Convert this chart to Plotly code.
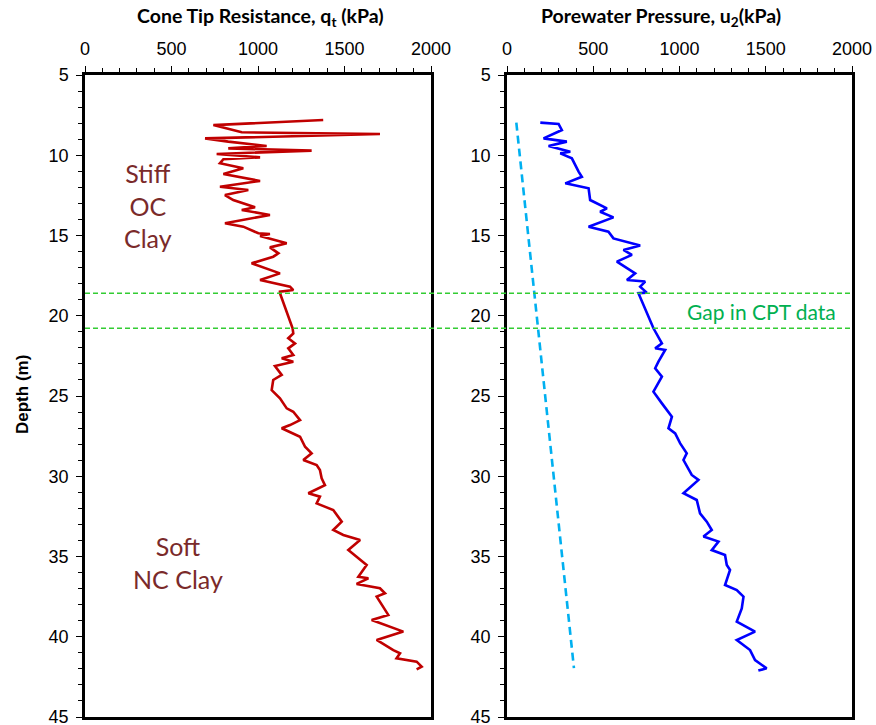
import plotly.graph_objects as go

# ---- data ----
qt_depth = [7.80, 8.12, 8.57, 8.68, 8.95, 9.15, 9.42, 9.57, 9.71, 9.92, 10.13, 10.25, 10.50,
            10.81, 11.17, 11.60, 11.96, 12.17, 12.48, 12.79, 13.24, 13.41, 13.72, 14.24, 14.45,
            14.86, 14.91, 15.03, 15.49, 15.74, 16.11, 16.32, 16.73, 17.36, 17.77, 18.19, 18.40,
            18.50, 18.60,
            20.78, 21.10, 21.40, 21.72, 22.03, 22.45, 22.65, 22.86, 23.13, 23.69, 24.00, 24.63,
            25.14, 25.77, 25.98, 26.50, 26.81, 27.01, 27.54, 28.16, 28.57, 28.99, 29.30, 29.61,
            30.13, 30.55, 31.06, 31.27, 31.69, 32.10, 32.83, 33.35, 33.66, 33.97, 34.60, 35.53,
            36.26, 36.36, 36.71, 36.98, 37.29, 37.50, 38.64, 38.96, 39.27, 39.68, 40.20, 40.83,
            41.03, 41.34, 41.55, 41.86, 42.03]
qt_kpa = [1377, 742, 906, 1705, 694, 828, 1050, 828, 1310, 761, 1012, 800, 780,
          915, 800, 1012, 780, 944, 809, 857, 983, 906, 1069, 809, 915,
          1002, 1069, 1012, 1166, 1069, 1118, 1088, 963, 1127, 1012, 1185, 1204,
          1127, 1127,
          1200, 1204, 1175, 1214, 1175, 1204, 1137, 1204, 1098, 1137, 1088, 1079,
          1127, 1166, 1204, 1243, 1185, 1137, 1243, 1272, 1310, 1262, 1339, 1358,
          1368, 1387, 1291, 1358, 1339, 1435, 1484, 1435, 1493, 1590, 1522, 1628,
          1580, 1638, 1570, 1705, 1734, 1686, 1753, 1657, 1734, 1840, 1686, 1782,
          1821, 1801, 1917, 1946, 1917]

u2_depth = [7.97, 8.05, 8.43, 8.95, 9.15, 9.42, 9.78, 9.88, 10.19, 10.61, 11.02, 11.34, 11.75,
            12.06, 12.79, 13.31, 13.52, 13.87, 14.45, 14.76, 15.18, 15.63, 15.90, 16.21, 16.63,
            17.36, 17.77, 17.87, 18.19, 18.56, 18.60,
            20.78, 21.72, 22.03, 22.13, 22.86, 23.27, 23.80, 24.73, 25.46, 26.29, 27.01, 27.33,
            27.95, 28.57, 28.99, 29.92, 30.23, 31.06, 31.48, 32.31, 32.83, 33.35, 33.76, 34.07,
            34.60, 34.91, 35.53, 35.84, 36.78, 37.09, 37.50, 38.23, 39.06, 39.68, 40.20, 40.83,
            41.45, 41.97, 42.11]
u2_kpa = [193, 299, 318, 212, 347, 241, 367, 309, 376, 395, 415, 434, 338,
          473, 482, 579, 540, 617, 473, 588, 617, 772, 675, 724, 637,
          743, 695, 801, 772, 810, 762,
          849, 898, 859, 917, 878, 859, 898, 849, 898, 956, 936, 975,
          1004, 1042, 1023, 1071, 1110, 1023, 1100, 1119, 1158, 1187, 1139, 1226,
          1187, 1264, 1274, 1293, 1264, 1332, 1371, 1361, 1332, 1438, 1332, 1409,
          1438, 1505, 1457]

u0_depth = [7.97, 41.95]
u0_kpa = [54, 388]

gap_depths = [18.6, 20.78]

x_ticks = [0, 500, 1000, 1500, 2000]
y_ticks = [5, 10, 15, 20, 25, 30, 35, 40, 45]

W, H = 876, 725
L1, R1 = 85, 431
L2, R2 = 507, 852
TOP, BOT = 75, 717

fig = go.Figure()
fig.add_trace(go.Scatter(x=qt_kpa, y=qt_depth, mode="lines", xaxis="x", yaxis="y",
                         line=dict(color="#C00000", width=2.6), showlegend=False))
fig.add_trace(go.Scatter(x=u0_kpa, y=u0_depth, mode="lines", xaxis="x2", yaxis="y2",
                         line=dict(color="#00B0F0", width=2.6, dash="8px,5px"), showlegend=False))
fig.add_trace(go.Scatter(x=u2_kpa, y=u2_depth, mode="lines", xaxis="x2", yaxis="y2",
                         line=dict(color="#0000FF", width=2.6), showlegend=False))

tickfont = dict(family="Liberation Sans", size=18, color="#000")
xcommon = dict(range=[0, 2000], side="top", tickvals=x_ticks, ticks="outside", ticklen=6,
               tickwidth=1.3, tickcolor="#000", showline=True, linecolor="#000", linewidth=2.5,
               mirror=True, showgrid=False, zeroline=False, tickfont=tickfont, automargin=False,
               ticklabeloverflow="allow",
               minor=dict(dtick=100, ticks="outside", ticklen=4, tickcolor="#000", tickwidth=1),
               ticklabelstandoff=4)
ycommon = dict(range=[45, 5], tickvals=y_ticks, ticks="outside", ticklen=6, tickwidth=1.3,
               tickcolor="#000", showline=True, linecolor="#000", linewidth=2.5, mirror=True,
               showgrid=False, zeroline=False, tickfont=tickfont, automargin=False,
               ticklabeloverflow="allow",
               minor=dict(dtick=1, ticks="outside", ticklen=4, tickcolor="#000", tickwidth=1),
               ticklabelstandoff=4)

fig.update_layout(
    width=W, height=H, margin=dict(l=0, r=0, t=0, b=0, autoexpand=False),
    paper_bgcolor="white", plot_bgcolor="white",
    xaxis=dict(domain=[L1 / W, R1 / W], anchor="y", **xcommon),
    yaxis=dict(domain=[1 - BOT / H, 1 - TOP / H], anchor="x", **ycommon),
    xaxis2=dict(domain=[L2 / W, R2 / W], anchor="y2", **xcommon),
    yaxis2=dict(domain=[1 - BOT / H, 1 - TOP / H], anchor="x2", **ycommon),
)

for d in gap_depths:
    fig.add_shape(type="line", xref="paper", yref="y", x0=L1 / W, x1=R2 / W, y0=d, y1=d,
                  line=dict(color="#33CC33", width=1.5, dash="5px,3px"), layer="above")

titlefont = dict(family="Lato", size=19.5, color="#000")
fig.add_annotation(x=260 / W, y=1 - 17 / H, xref="paper", yref="paper",
                   text="<b>Cone Tip Resistance, q<sub>t</sub> (kPa)</b>", showarrow=False,
                   font=titlefont, xanchor="center", yanchor="middle")
fig.add_annotation(x=661 / W, y=1 - 17 / H, xref="paper", yref="paper",
                   text="<b>Porewater Pressure, u<sub>2</sub>(kPa)</b>", showarrow=False,
                   font=titlefont, xanchor="center", yanchor="middle")
fig.add_annotation(x=22 / W, y=1 - 395 / H, xref="paper", yref="paper",
                   text="<b>Depth (m)</b>", showarrow=False, textangle=-90,
                   font=dict(family="Liberation Sans", size=17, color="#000"),
                   xanchor="center", yanchor="middle")

labfont = dict(family="Lato", size=25, color="#7A2A2A")
fig.add_annotation(x=148 / W, y=1 - 205 / H, xref="paper", yref="paper",
                   text="Stiff<br>OC<br>Clay", showarrow=False, font=labfont,
                   xanchor="center", yanchor="middle", align="center")
fig.add_annotation(x=178 / W, y=1 - 562 / H, xref="paper", yref="paper",
                   text="Soft<br>NC Clay", showarrow=False, font=labfont,
                   xanchor="center", yanchor="middle", align="center")
fig.add_annotation(x=761 / W, y=1 - 311 / H, xref="paper", yref="paper",
                   text="Gap in CPT data", showarrow=False,
                   font=dict(family="Lato", size=21, color="#00B050"),
                   xanchor="center", yanchor="middle")

fig.write_html("out.html")
